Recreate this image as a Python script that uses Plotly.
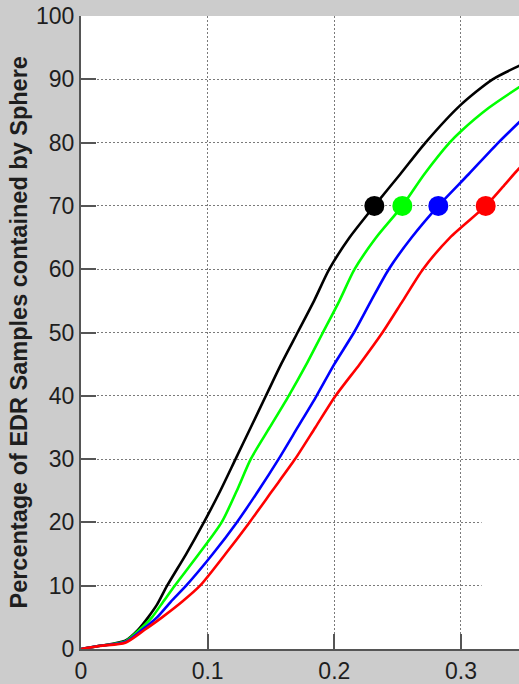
import plotly.graph_objects as go

# ---- data ----
black_x = [0, 0.015, 0.035, 0.045, 0.053, 0.060, 0.068, 0.083, 0.097, 0.110, 0.122, 0.134,
           0.146, 0.158, 0.171, 0.184, 0.196, 0.212, 0.2316, 0.252, 0.272, 0.300, 0.325, 0.350]
black_y = [0, 0.5, 1.3, 3, 5, 7, 10, 15, 20, 25, 30, 35,
           40, 45, 50, 55, 60, 65, 70, 75, 80, 86, 90, 92.5]

green_x = [0, 0.015, 0.035, 0.046, 0.056, 0.065, 0.074, 0.093, 0.111, 0.123, 0.134, 0.149,
           0.164, 0.178, 0.191, 0.204, 0.216, 0.233, 0.2537, 0.271, 0.291, 0.300, 0.322, 0.350]
green_y = [0, 0.5, 1.2, 3, 5, 7.5, 10, 15, 20, 25, 30, 35,
           40, 45, 50, 55, 60, 65, 70, 75, 80, 81.8, 85.5, 89.3]

blue_x = [0, 0.015, 0.035, 0.048, 0.060, 0.071, 0.083, 0.104, 0.123, 0.140, 0.156, 0.171,
          0.186, 0.200, 0.2155, 0.229, 0.243, 0.261, 0.2821, 0.306, 0.3295, 0.350]
blue_y = [0, 0.5, 1.1, 3, 5, 7.5, 10, 15, 20, 25, 30, 35,
          40, 45, 50, 55, 60, 65, 70, 75, 80, 84.0]

red_x = [0, 0.015, 0.035, 0.050, 0.064, 0.080, 0.094, 0.114, 0.133, 0.151, 0.169, 0.185,
         0.201, 0.220, 0.238, 0.254, 0.270, 0.2913, 0.3195, 0.333, 0.3458, 0.350]
red_y = [0, 0.5, 1.0, 3, 5, 7.5, 10, 15, 20, 25, 30, 35,
         40, 45, 50, 55, 60, 65, 70, 73, 75.9, 76.6]

marker_x = [0.2316, 0.2537, 0.2821, 0.3195]
marker_y = [70, 70, 70, 70]
colors = ["#000000", "#00ff00", "#0000ff", "#ff0000"]

x_ticks = [0, 0.1, 0.2, 0.3]
x_ticktext = ["0", "0.1", "0.2", "0.3"]
y_ticks = [0, 10, 20, 30, 40, 50, 60, 70, 80, 90, 100]
y_title = "Percentage of EDR Samples contained by Sphere"

fig = go.Figure()
curves = [(black_x, black_y), (green_x, green_y), (blue_x, blue_y), (red_x, red_y)]
for (cx, cy), c in zip(curves, colors):
    fig.add_trace(go.Scatter(x=cx, y=cy, mode="lines",
                             line=dict(color=c, width=2.6, shape="spline", smoothing=0.7),
                             showlegend=False, hoverinfo="skip"))
for mx, my, c in zip(marker_x, marker_y, colors):
    fig.add_trace(go.Scatter(x=[mx], y=[my], mode="markers",
                             marker=dict(color=c, size=20, line=dict(width=0)),
                             showlegend=False))

# erased legend area hides part of the grid
fig.add_shape(type="rect", xref="x", yref="y", x0=0.3163, x1=0.36, y0=0.6, y1=25,
              fillcolor="white", line=dict(width=0), layer="between")

font_family = "Liberation Sans, Arial, sans-serif"
axis_common = dict(
    showline=True, linecolor="#555555", linewidth=2,
    ticks="inside", ticklen=15, tickwidth=2, tickcolor="#555555",
    showgrid=True, gridcolor="#7a7a7a", gridwidth=1, griddash="2px,2px",
    zeroline=False, mirror=False,
    tickfont=dict(family=font_family, size=23, color="#1e1e1e"),
)

fig.update_layout(
    width=519, height=684,
    margin=dict(l=81, r=0, t=16, b=30),
    paper_bgcolor="#cccccc", plot_bgcolor="white",
    xaxis=dict(range=[0, 0.3458], tickmode="array", tickvals=x_ticks, ticktext=x_ticktext,
               **axis_common),
    yaxis=dict(range=[0, 100], tickmode="array", tickvals=y_ticks, **axis_common),
    annotations=[dict(text="<b>" + y_title + "</b>", xref="paper", yref="paper",
                      x=-0.1438, y=0.5, xanchor="center", yanchor="middle",
                      textangle=-90, showarrow=False,
                      font=dict(family=font_family, size=23.5, color="#1e1e1e"))],
)

fig.write_html("out.html")
